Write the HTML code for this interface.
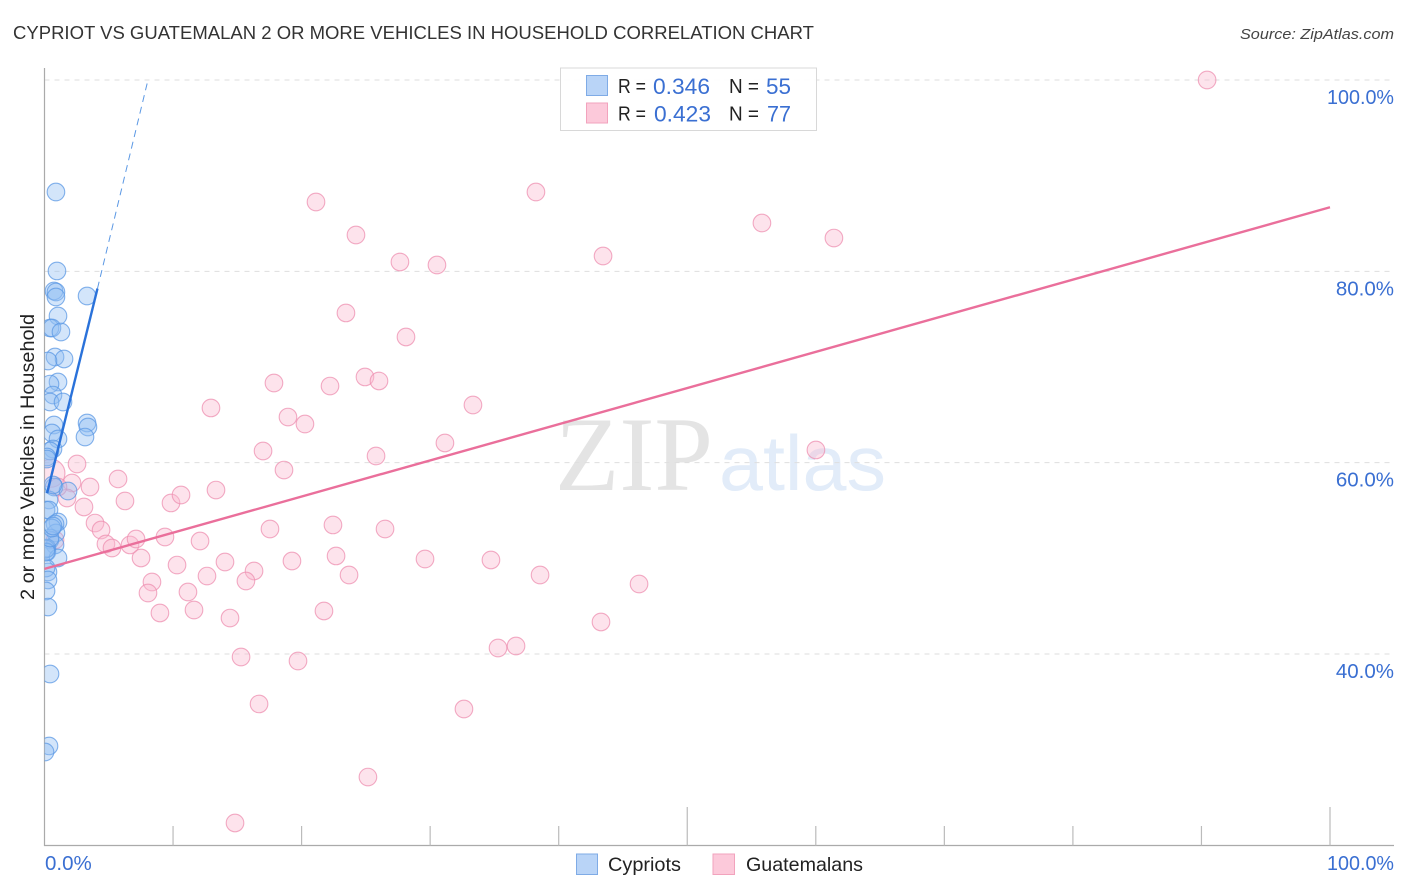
<!DOCTYPE html>
<html>
<head>
<meta charset="utf-8">
<title>Cypriot vs Guatemalan 2 or more Vehicles in Household Correlation Chart</title>
<style>
html,body{margin:0;padding:0;background:#fff;width:1406px;height:892px;overflow:hidden}
svg{display:block;font-family:"Liberation Sans",sans-serif}
</style>
</head>
<body>
<svg id="chart" width="1406" height="892" viewBox="0 0 1406 892" xmlns="http://www.w3.org/2000/svg">
  <defs>
    <clipPath id="plot-clip"><rect x="44.5" y="60" width="1350" height="786"/></clipPath>
  </defs>
  <text x="13" y="39" font-size="18.5" fill="#333" textLength="801" lengthAdjust="spacingAndGlyphs">CYPRIOT VS GUATEMALAN 2 OR MORE VEHICLES IN HOUSEHOLD CORRELATION CHART</text>
  <text x="1394" y="39" font-size="15" font-style="italic" fill="#444" text-anchor="end" textLength="154" lengthAdjust="spacingAndGlyphs">Source: ZipAtlas.com</text>
  <g id="watermark">
    <text x="555" y="490" font-family="'Liberation Serif',serif" font-size="106" fill="#e4e4e4" textLength="158" lengthAdjust="spacingAndGlyphs">ZIP</text>
    <text x="719" y="490" font-size="78" fill="#e2ecf9" textLength="167" lengthAdjust="spacingAndGlyphs">atlas</text>
  </g>
  <g id="grid"></g>
  <g id="axes"></g>
  <g id="points" clip-path="url(#plot-clip)"></g>
  <g id="lines"></g>
  <text transform="translate(34,457) rotate(-90)" font-size="19" fill="#222" text-anchor="middle" textLength="286" lengthAdjust="spacingAndGlyphs">2 or more Vehicles in Household</text>

  <g>
    <rect x="560.5" y="68" width="256" height="62.5" fill="#fff" fill-opacity="0.9" stroke="#d8d8d8" stroke-width="1"/>
    <rect x="586.5" y="75.5" width="21" height="20" fill="#b9d4f7" stroke="#7fabe6" stroke-width="1"/>
    <rect x="586.5" y="103" width="21" height="20" fill="#fcc9da" stroke="#f2a3bd" stroke-width="1"/>
    <text x="618" y="93" font-size="20" fill="#222" textLength="28" lengthAdjust="spacingAndGlyphs">R =</text>
    <text x="653" y="94" font-size="22" fill="#3a6fd2" textLength="57" lengthAdjust="spacingAndGlyphs">0.346</text>
    <text x="729" y="93" font-size="20" fill="#222" textLength="30" lengthAdjust="spacingAndGlyphs">N =</text>
    <text x="766" y="94" font-size="22" fill="#3a6fd2" textLength="25" lengthAdjust="spacingAndGlyphs">55</text>
    <text x="618" y="120.5" font-size="20" fill="#222" textLength="28" lengthAdjust="spacingAndGlyphs">R =</text>
    <text x="654" y="121.5" font-size="22" fill="#3a6fd2" textLength="57" lengthAdjust="spacingAndGlyphs">0.423</text>
    <text x="729" y="120.5" font-size="20" fill="#222" textLength="30" lengthAdjust="spacingAndGlyphs">N =</text>
    <text x="767" y="121.5" font-size="22" fill="#3a6fd2" textLength="24" lengthAdjust="spacingAndGlyphs">77</text>
  </g>

  <g>
    <rect x="576.5" y="854" width="21" height="20.5" fill="#b9d4f7" stroke="#7fabe6" stroke-width="1"/>
    <text x="608" y="871" font-size="19.5" fill="#222" textLength="73" lengthAdjust="spacingAndGlyphs">Cypriots</text>
    <rect x="713" y="854" width="21.5" height="20.5" fill="#fcc9da" stroke="#f2a3bd" stroke-width="1"/>
    <text x="746" y="871" font-size="19.5" fill="#222" textLength="117" lengthAdjust="spacingAndGlyphs">Guatemalans</text>
  </g>
</svg>
<script>
const yTickValues = [100, 80, 60, 40];
const yTickLabels = ["100.0%", "80.0%", "60.0%", "40.0%"];
const xTickValues = [10, 20, 30, 40, 50, 60, 70, 80, 90, 100];
const xMajorTicks = [50, 100];
const xEndLabels = ["0.0%", "100.0%"];

const cypriotX = [0.89,0.97,0.74,0.89,0.89,3.31,1.05,0.43,0.58,1.28,0.82,1.52,0.27,1.05,0.43,0.66,0.43,1.44,3.31,3.38,3.15,0.74,0.58,1.05,0.66,0.43,0.19,0.19,0.74,1.83,0.35,0.66,0.12,0.35,1.05,0.82,0.89,0.43,0.82,0.19,0.19,1.05,0.27,0.12,0.27,0.12,0.27,0.43,0.35,0.04,0.12,0.12,0.43,0.58,0.66];
const cypriotY = [88.29,80.04,77.95,77.84,77.32,77.42,75.33,74.08,74.08,73.66,71.05,70.84,70.63,68.43,68.22,67.07,66.34,66.34,64.15,63.73,62.68,63.94,63.10,62.48,61.43,61.22,60.59,60.38,57.46,57.04,56.10,57.67,55.05,55.05,53.80,53.59,52.65,51.92,51.40,51.08,50.66,50.04,48.57,48.99,47.74,46.59,44.91,37.91,30.39,29.76,50.98,50.66,52.13,53.17,53.38];

const guatemalanX = [90.44,38.23,21.12,55.81,61.41,24.23,43.45,27.65,30.53,23.45,28.12,17.85,22.21,24.93,26.02,33.33,12.95,18.94,20.26,31.15,17.00,25.79,60.01,18.63,2.53,5.72,6.26,9.84,10.62,13.34,3.54,2.14,1.75,0.50,3.07,3.93,4.40,4.78,5.25,6.65,7.12,7.51,9.37,12.10,17.54,22.44,26.49,22.68,19.25,29.60,34.73,14.04,10.31,16.30,12.64,23.69,15.67,8.36,8.05,11.16,11.63,8.98,14.43,21.74,38.55,46.25,43.29,35.28,36.68,15.29,19.72,16.69,32.63,25.16,14.82,0.82,1.05];
const guatemalanY = [100,88.29,87.25,85.05,83.48,83.80,81.60,80.98,80.66,75.65,73.14,68.33,68.01,68.96,68.54,66.03,65.72,64.77,64.04,62.06,61.22,60.70,61.33,59.23,59.86,58.30,56.00,55.79,56.62,57.14,57.46,57.88,56.31,58.90,55.37,53.69,52.96,51.50,51.08,51.40,52.02,50.04,52.23,51.81,53.07,53.49,53.07,50.25,49.72,49.93,49.83,49.62,49.30,48.68,48.15,48.26,47.63,47.53,46.38,46.48,44.60,44.29,43.76,44.50,48.26,47.32,43.35,40.63,40.84,39.69,39.27,34.78,34.25,27.14,22.34,51.92,57.46];
const largeGuatemalanPoint = 33;

const cypriotTrendX = [0.2, 4.12, 8.05];
const cypriotTrendY = [56.8, 78.2, 100];
const guatemalanTrendX = [0, 100];
const guatemalanTrendY = [48.9, 86.7];

const NS = "http://www.w3.org/2000/svg";
function xScale(v) { return 44.5 + v * 12.855; }
function yScale(v) { return 80 + (100 - v) * 9.567; }
function make(tag, attrs, parent) {
  const el = document.createElementNS(NS, tag);
  for (const k in attrs) el.setAttribute(k, attrs[k]);
  parent.appendChild(el);
  return el;
}
function fitHundred(el, label) {
  if (label.indexOf("100") === 0) {
    el.setAttribute("textLength", 67);
    el.setAttribute("lengthAdjust", "spacingAndGlyphs");
  }
}

const gridG = document.getElementById("grid");
const axesG = document.getElementById("axes");
const pointsG = document.getElementById("points");
const linesG = document.getElementById("lines");

yTickValues.forEach(function (v, i) {
  const y = yScale(v);
  const line = make("line", {x1: 44.5, x2: 1394, y1: y, y2: y, stroke: "#dedede", "stroke-width": 1, "stroke-dasharray": "5 5"}, gridG);
  
  
  const label = make("text", {x: 1394, y: y + 24, "font-size": 20.5, fill: "#3a6fd2", "text-anchor": "end"}, axesG);
  label.textContent = yTickLabels[i];
  fitHundred(label, yTickLabels[i]);
  
  
});

const yAxis = make("line", {x1: 44.5, x2: 44.5, y1: 68, y2: 846, stroke: "#aaa", "stroke-width": 1.2}, axesG);


const xAxis = make("line", {x1: 44, x2: 1394, y1: 845.5, y2: 845.5, stroke: "#aaa", "stroke-width": 1.2}, axesG);



xTickValues.forEach(function (v) {
  const x = xScale(v);
  const top = xMajorTicks.indexOf(v) >= 0 ? 807 : 826;
  const tick = make("line", {x1: x, x2: x, y1: top, y2: 845.5, stroke: "#bbb", "stroke-width": 1.2}, axesG);
  
  
});

const xLeft = make("text", {x: 45, y: 870, "font-size": 20.5, fill: "#3a6fd2"}, axesG);
xLeft.textContent = xEndLabels[0];


const xRight = make("text", {x: 1394, y: 870, "font-size": 20.5, fill: "#3a6fd2", "text-anchor": "end"}, axesG);
xRight.textContent = xEndLabels[1];
fitHundred(xRight, xEndLabels[1]);



guatemalanX.forEach(function (v, i) {
  const radius = i === largeGuatemalanPoint ? 14 : 8.8;
  const dot = make("circle", {cx: xScale(v), cy: yScale(guatemalanY[i]), r: radius, fill: "#f9b8cf", "fill-opacity": 0.4, stroke: "#ee8fb0", "stroke-opacity": 0.75, "stroke-width": 1.1}, pointsG);
  
  
});
cypriotX.forEach(function (v, i) {
  const dot = make("circle", {cx: xScale(v), cy: yScale(cypriotY[i]), r: 8.8, fill: "#90bdf2", "fill-opacity": 0.4, stroke: "#5b98e4", "stroke-opacity": 0.75, "stroke-width": 1.1}, pointsG);
  
  
});

const cypriotSolid = make("line", {x1: xScale(cypriotTrendX[0]), y1: yScale(cypriotTrendY[0]), x2: xScale(cypriotTrendX[1]), y2: yScale(cypriotTrendY[1]), stroke: "#2a72da", "stroke-width": 2.4}, linesG);


const cypriotDash = make("line", {x1: xScale(cypriotTrendX[1]), y1: yScale(cypriotTrendY[1]), x2: xScale(cypriotTrendX[2]), y2: yScale(cypriotTrendY[2]), stroke: "#5b98e4", "stroke-width": 1, "stroke-dasharray": "7 5"}, linesG);


const guatemalanLine = make("line", {x1: xScale(guatemalanTrendX[0]), y1: yScale(guatemalanTrendY[0]), x2: xScale(guatemalanTrendX[1]), y2: yScale(guatemalanTrendY[1]), stroke: "#ea6f9b", "stroke-width": 2.4}, linesG);


</script>
</body>
</html>
